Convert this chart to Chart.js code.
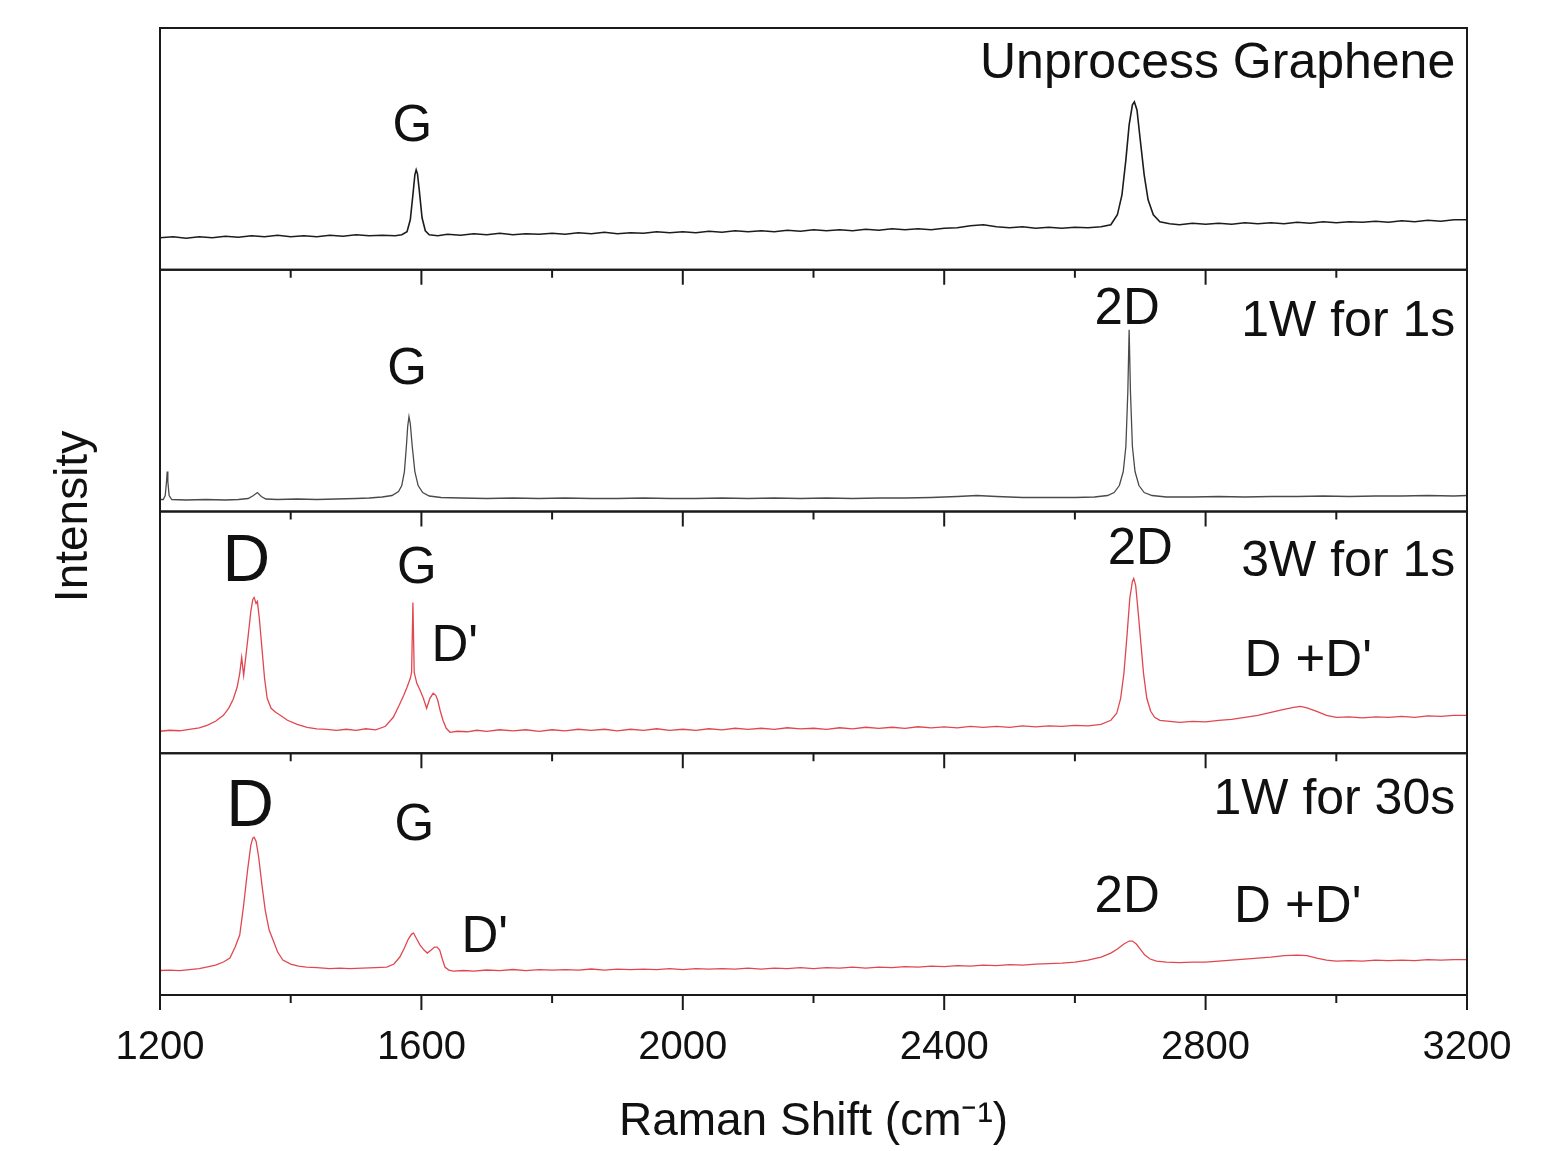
<!DOCTYPE html>
<html>
<head>
<meta charset="utf-8">
<title>Raman spectra</title>
<script src="https://cdn.jsdelivr.net/npm/chart.js@4.4.1/dist/chart.umd.min.js"></script>
<style>
  html, body { margin: 0; padding: 0; background: #fff; }
  canvas { display: block; }
</style>
</head>
<body>
<canvas id="raman-chart" width="1563" height="1151"></canvas>
<script>
// [Raman shift (cm-1), intensity (a.u.)]
const unprocessed = [
  [1200,32],[1220,33],[1240,31.5],[1260,33],[1280,32],[1300,33.5],[1320,32.5],[1340,34],[1360,33],[1380,34.5],
  [1400,33],[1420,34],[1440,33],[1460,34.5],[1480,33.5],[1500,35],[1520,34],[1540,34.5],[1560,34],[1570,35],
  [1578,38],[1583,50],[1587,75],[1590,95],[1592,100],[1594,96],[1597,78],[1601,52],[1606,39],[1612,35],
  [1625,34],[1640,35.5],[1660,34.5],[1680,36],[1700,35],[1720,36.5],[1740,35],[1760,36],[1780,35.5],[1800,36.5],
  [1820,35.5],[1840,37],[1860,36],[1880,37.5],[1900,36],[1920,37],[1940,36.5],[1960,38],[1980,37],[2000,38],
  [2020,37],[2040,38.5],[2060,37.5],[2080,39],[2100,38],[2120,39],[2140,38],[2160,39.5],[2180,38.5],[2200,40],
  [2220,39],[2240,40],[2260,39],[2280,40.5],[2300,39.5],[2320,41],[2340,40],[2360,41],[2380,40],[2400,41.5],
  [2420,42],[2440,44],[2460,45],[2480,43],[2500,42],[2520,43],[2540,41.5],[2560,42.5],[2580,41.5],[2600,42.5],
  [2620,42],[2640,43],[2655,45],[2665,55],[2672,75],[2678,110],[2683,145],[2688,165],[2691,168],[2695,160],
  [2700,130],[2706,95],[2712,70],[2720,55],[2730,48],[2745,46],[2760,45],[2780,46.5],[2800,45.5],[2820,46.5],
  [2840,45.5],[2860,47],[2880,46],[2900,47],[2920,46],[2940,47.5],[2960,46.5],[2980,48],[3000,47],[3020,48],
  [3040,47.5],[3060,48.5],[3080,47.5],[3100,49],[3120,48],[3140,49.5],[3160,48.5],[3180,50],[3200,50]
];

const oneWatt1s = [
  [1200,12],[1205,12],[1208,16],[1210,30],[1211,40],[1212,30],[1214,16],[1218,12],[1240,11.5],[1270,12],
  [1300,11.5],[1320,12],[1335,13],[1343,16],[1349,19],[1355,15],[1362,12.5],[1380,12],[1410,12.5],[1440,12],
  [1470,12.5],[1500,13],[1520,13.5],[1540,14.5],[1555,16],[1565,20],[1570,26],[1574,40],[1577,65],[1579,85],
  [1581,95],[1583,88],[1586,65],[1590,40],[1595,26],[1602,19],[1612,15.5],[1630,14],[1660,13.5],[1700,13],
  [1740,13.5],[1780,13],[1820,13.5],[1860,13],[1900,13],[1940,13.5],[1980,13],[2020,13],[2060,13.5],[2100,13],
  [2140,13.5],[2180,13],[2220,13.5],[2260,13],[2300,13.5],[2340,13.5],[2380,14],[2420,15],[2450,16],[2480,15],
  [2520,14],[2560,14],[2600,14],[2630,14.5],[2650,16],[2660,19],[2668,26],[2674,40],[2678,65],[2681,120],
  [2683,182],[2685,120],[2688,65],[2692,40],[2698,26],[2706,19],[2718,16],[2740,14.5],[2780,14.5],[2820,15],
  [2860,14.5],[2900,15],[2940,15],[2980,15.5],[3020,15],[3060,15.5],[3100,15.5],[3140,16],[3180,15.5],[3200,16]
];

const threeWatt1s = [
  [1200,22],[1215,23],[1230,22.5],[1245,24],[1260,25.5],[1272,28],[1285,32],[1297,38],[1305,45],[1312,54],
  [1318,66],[1322,80],[1325,96],[1328,78],[1331,95],[1335,118],[1339,142],[1342,154],[1344,156],[1347,150],
  [1349,152],[1352,135],[1356,105],[1360,75],[1364,55],[1370,45],[1377,41],[1384,38],[1395,33],[1410,29],
  [1425,26],[1440,24.5],[1455,24],[1470,23],[1485,24],[1500,23],[1515,24.5],[1530,23.5],[1545,27],[1557,36],
  [1566,48],[1573,58],[1578,66],[1583,75],[1585,81],[1587,151],[1589,81],[1593,70],[1598,63],[1603,55],
  [1608,45],[1613,55],[1618,60],[1622,58],[1625,53],[1629,42],[1633,33],[1638,25],[1644,21],[1655,22],
  [1670,21.5],[1685,23],[1700,22],[1720,23.5],[1740,22.5],[1760,23.5],[1780,22],[1800,23.5],[1820,22.5],[1840,24],
  [1860,23],[1880,24],[1900,22.5],[1920,24],[1940,23],[1960,24.5],[1980,23],[2000,24],[2020,23],[2040,24.5],
  [2060,23.5],[2080,25],[2100,24],[2120,25],[2140,24],[2160,25.5],[2180,24.5],[2200,25],[2220,24],[2240,25.5],
  [2260,24.5],[2280,26],[2300,25],[2320,26],[2340,25],[2360,26.5],[2380,25.5],[2400,26.5],[2420,25.5],[2440,27],
  [2460,26],[2480,27],[2500,26],[2520,27.5],[2540,26.5],[2560,27.5],[2580,27],[2600,28],[2620,27.5],[2640,29],
  [2655,33],[2664,40],[2670,55],[2675,80],[2680,120],[2684,155],[2688,172],[2690,175],[2693,168],[2697,140],
  [2701,110],[2705,80],[2710,55],[2716,42],[2722,36],[2730,33],[2745,32],[2760,31],[2780,32],[2800,31.5],
  [2820,33],[2840,34],[2860,36],[2880,38],[2900,41],[2920,44],[2935,46],[2945,47],[2955,45.5],[2970,42],
  [2985,38],[3000,36],[3020,36.5],[3040,35.5],[3060,36.5],[3080,36],[3100,37],[3120,36],[3140,37.5],[3160,37],
  [3180,38],[3200,38]
];

const oneWatt30s = [
  [1200,24.5],[1215,25],[1230,24.5],[1245,25.5],[1260,26.5],[1271,28],[1285,30],[1297,33],[1307,37],[1315,48],
  [1322,60],[1328,90],[1334,125],[1339,150],[1342,157],[1344,158],[1347,154],[1351,138],[1356,110],[1361,85],
  [1367,65],[1373,55],[1380,43],[1388,35],[1400,31],[1412,29],[1424,28],[1440,27.5],[1460,26.5],[1475,27],
  [1490,26.5],[1510,27],[1530,27.5],[1547,28],[1558,31],[1567,38],[1574,47],[1580,56],[1585,61],[1588,62],
  [1592,57],[1598,50],[1604,45],[1609,42],[1615,45],[1620,48],[1624,48],[1628,45],[1632,36],[1636,28],
  [1642,25],[1649,24],[1665,24.5],[1680,24],[1700,25],[1720,24.5],[1740,25.5],[1760,24.5],[1780,25.5],[1800,25],
  [1820,25.5],[1840,25],[1860,26],[1880,25],[1900,26],[1920,25.5],[1940,26],[1960,25.5],[1980,26.5],[2000,25.5],
  [2020,26.5],[2040,26],[2060,26.5],[2080,26],[2100,27],[2120,26],[2140,27],[2160,26.5],[2180,27.5],[2200,26.5],
  [2220,27.5],[2240,27],[2260,28],[2280,27],[2300,28],[2320,27.5],[2340,28.5],[2360,28],[2380,29],[2400,28.5],
  [2420,29.5],[2440,29],[2460,30],[2480,29.5],[2500,30.5],[2520,30],[2540,31],[2560,31.5],[2580,32],[2600,33],
  [2620,35],[2640,38],[2655,42],[2665,46],[2675,51],[2683,54],[2688,54],[2694,51],[2700,46],[2707,40],
  [2715,36],[2725,34],[2740,33],[2760,32.5],[2780,33],[2800,33],[2820,34],[2840,35],[2860,36],[2880,37],
  [2900,38],[2920,39.5],[2940,40],[2955,39.5],[2970,37],[2985,35],[3000,34],[3020,34.5],[3040,34],[3060,35],
  [3080,34.5],[3100,35],[3120,34.5],[3140,35.5],[3160,35],[3180,35.5],[3200,35.5]
];

const sampleNames = ['Unprocess Graphene', '1W for 1s', '3W for 1s', '1W for 30s'];
const shiftLabels = [1200, 1600, 2000, 2400, 2800, 3200];

// peak annotations, placed in data units of their own panel
const peakLabels = [
  { panel: 0, text: 'G', shift: 1586, level: 143 },
  { panel: 1, text: '2D', shift: 2680, level: 202 },
  { panel: 1, text: 'G', shift: 1578, level: 142 },
  { panel: 2, text: 'D', shift: 1332, level: 191, big: true },
  { panel: 2, text: 'G', shift: 1593, level: 185 },
  { panel: 2, text: "D'", shift: 1651, level: 106 },
  { panel: 2, text: '2D', shift: 2700, level: 204 },
  { panel: 2, text: "D +D'", shift: 2957, level: 91 },
  { panel: 3, text: 'D', shift: 1338, level: 187, big: true },
  { panel: 3, text: 'G', shift: 1589, level: 169 },
  { panel: 3, text: "D'", shift: 1697, level: 57 },
  { panel: 3, text: '2D', shift: 2680, level: 97 },
  { panel: 3, text: "D +D'", shift: 2941, level: 87 }
];
const nameLevels = [206, 189, 191, 195];

const FONT = '"Liberation Sans", Arial, sans-serif';
const panelAxes = ['y1', 'y2', 'y3', 'y4'];
const spectra = [unprocessed, oneWatt1s, threeWatt1s, oneWatt30s];
const lineColors = ['#1c1c1c', '#4a4a4a', '#e2474f', '#e2474f'];
const lineWidths = [1.6, 1.3, 1.3, 1.3];

const datasets = spectra.map((s, i) => ({
  label: sampleNames[i],
  data: s.map(([x, y]) => ({ x, y })),
  yAxisID: panelAxes[i],
  borderColor: lineColors[i],
  borderWidth: lineWidths[i],
  pointRadius: 0,
  tension: 0,
  fill: false
}));

const scales = {
  x: {
    type: 'linear',
    position: 'bottom',
    min: 1200,
    max: 3200,
    grid: { display: false, drawTicks: false },
    border: { display: false },
    ticks: {
      stepSize: 200,
      autoSkip: false,
      maxRotation: 0,
      padding: 29,
      color: '#111',
      font: { family: FONT, size: 40 },
      callback: v => shiftLabels.includes(v) ? String(v) : ''
    },
    title: {
      display: true,
      text: 'Raman Shift (cm\u207B\u00B9)',
      color: '#111',
      font: { family: FONT, size: 46 },
      padding: { top: 0, bottom: 1 }
    },
    afterFit: scale => { scale.height = 156; }
  }
};
panelAxes.forEach((id, i) => {
  scales[id] = {
    type: 'linear',
    position: 'left',
    display: false,
    stack: 'spectra',
    stackWeight: 1,
    weight: 4 - i,
    min: 0,
    max: 242
  };
});

const framePlugin = {
  id: 'frames',
  afterDraw(chart) {
    const ctx = chart.ctx;
    const xs = chart.scales.x;
    const area = chart.chartArea;
    ctx.save();
    ctx.strokeStyle = '#1a1a1a';
    ctx.lineWidth = 2;

    panelAxes.forEach((id, i) => {
      const ys = chart.scales[id];
      ctx.strokeRect(area.left, ys.top, area.right - area.left, ys.bottom - ys.top);
      if (i > 0) {
        // small ticks hanging under each separator
        xs.ticks.forEach(t => {
          const px = xs.getPixelForValue(t.value);
          const len = t.value % 400 === 0 ? 15 : 8;
          ctx.beginPath();
          ctx.moveTo(px, ys.top);
          ctx.lineTo(px, ys.top + len);
          ctx.stroke();
        });
      }
    });

    // outward ticks on the bottom axis
    xs.ticks.forEach(t => {
      const px = xs.getPixelForValue(t.value);
      const len = t.value % 400 === 0 ? 15 : 8;
      ctx.beginPath();
      ctx.moveTo(px, area.bottom);
      ctx.lineTo(px, area.bottom + len);
      ctx.stroke();
    });

    // annotations
    ctx.fillStyle = '#111';
    ctx.textBaseline = 'middle';
    ctx.textAlign = 'center';
    peakLabels.forEach(l => {
      const ys = chart.scales[panelAxes[l.panel]];
      ctx.font = (l.big ? 66 : 51) + 'px ' + FONT;
      ctx.fillText(l.text, xs.getPixelForValue(l.shift), ys.getPixelForValue(l.level));
    });
    ctx.textAlign = 'right';
    ctx.font = '50px ' + FONT;
    sampleNames.forEach((name, i) => {
      const ys = chart.scales[panelAxes[i]];
      ctx.fillText(name, xs.getPixelForValue(3182), ys.getPixelForValue(nameLevels[i]));
    });

    // shared y title
    ctx.save();
    ctx.translate(area.left - 86, (area.top + area.bottom) / 2 + 5);
    ctx.rotate(-Math.PI / 2);
    ctx.textAlign = 'center';
    ctx.font = '46px ' + FONT;
    ctx.fillText('Intensity', 0, 0);
    ctx.restore();

    ctx.restore();
  }
};

new Chart(document.getElementById('raman-chart'), {
  type: 'line',
  data: { datasets },
  options: {
    responsive: false,
    animation: false,
    devicePixelRatio: 1,
    layout: { padding: { left: 160, right: 96, top: 28, bottom: 0 } },
    plugins: { legend: { display: false }, tooltip: { enabled: false } },
    scales
  },
  plugins: [framePlugin]
});
</script>
</body>
</html>
